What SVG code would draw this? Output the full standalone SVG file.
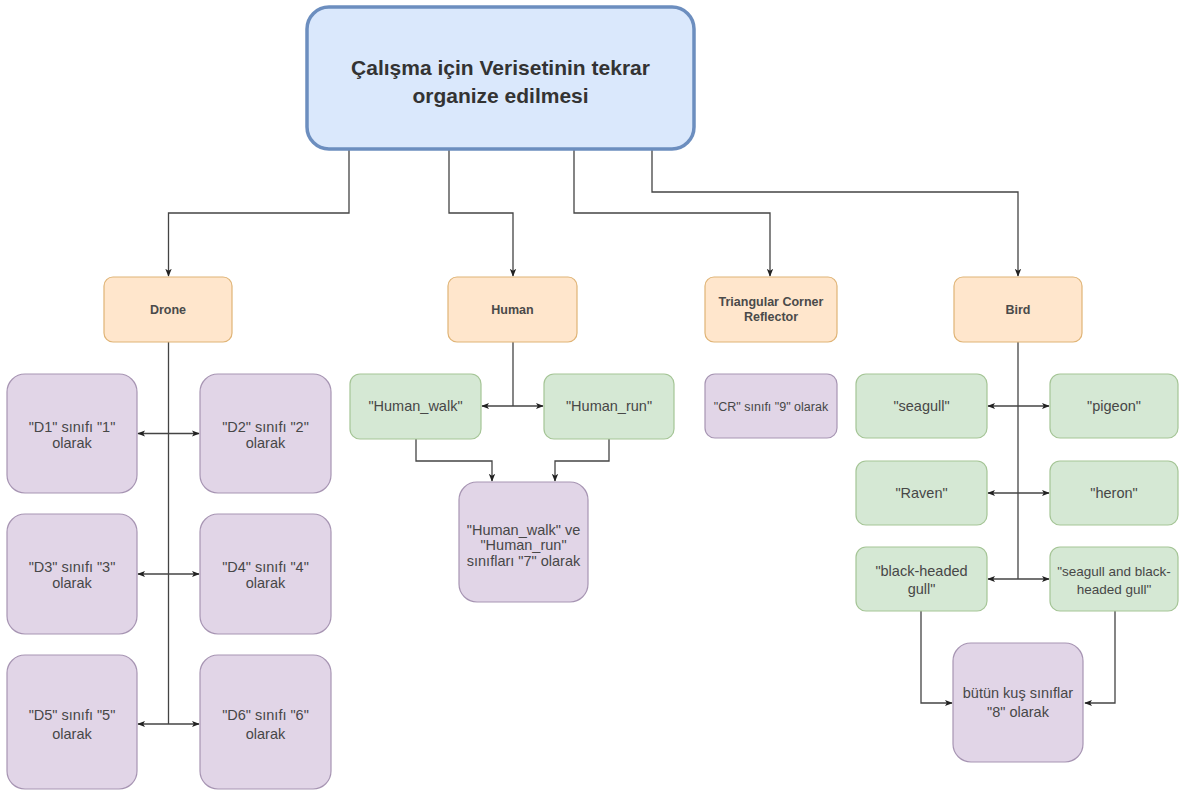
<svg xmlns="http://www.w3.org/2000/svg" width="1180" height="793" viewBox="0 0 1180 793">
  <defs>
    <marker id="arr" viewBox="0 0 10 10" refX="9" refY="5" markerWidth="8" markerHeight="8" markerUnits="userSpaceOnUse" orient="auto-start-reverse">
      <path d="M0,1 L10,5 L0,9 L2.5,5 Z" fill="#222"/>
    </marker>
    <style>
      .edge { fill: none; stroke: #444; stroke-width: 1.3; }
      .root { fill: #dae8fc; stroke: #6c8ebf; stroke-width: 3.5; }
      .cat { fill: #ffe6cc; stroke: #e0b476; stroke-width: 1.2; }
      .cls { fill: #e1d5e7; stroke: #a795b3; stroke-width: 1.2; }
      .sub { fill: #d5e8d4; stroke: #a5c596; stroke-width: 1.2; }
      text { font-family: "Liberation Sans", Arial, sans-serif; text-anchor: middle; fill: #474747; }
      .t-root { font-size: 21px; font-weight: bold; fill: #333; }
      .t-cat { font-size: 12.5px; font-weight: bold; fill: #4a4a4a; }
      .t { font-size: 14.5px; }
      .t-s { font-size: 13.5px; }
    </style>
  </defs>

  <!-- connectors -->
  <g id="connectors">
    <path class="edge" d="M349,150 V213 H168.5 V276" marker-end="url(#arr)"/>
    <path class="edge" d="M449,150 V213 H513 V276" marker-end="url(#arr)"/>
    <path class="edge" d="M574,150 V213 H770 V276" marker-end="url(#arr)"/>
    <path class="edge" d="M652,150 V192 H1018 V276" marker-end="url(#arr)"/>

    <!-- Drone split -->
    <path class="edge" d="M168.5,342 V724"/>
    <path class="edge" d="M138,433.5 H199" marker-start="url(#arr)" marker-end="url(#arr)"/>
    <path class="edge" d="M138,574 H199" marker-start="url(#arr)" marker-end="url(#arr)"/>
    <path class="edge" d="M138,724 H199" marker-start="url(#arr)" marker-end="url(#arr)"/>

    <!-- Human split -->
    <path class="edge" d="M513,342 V406"/>
    <path class="edge" d="M482,406 H543" marker-start="url(#arr)" marker-end="url(#arr)"/>
    <path class="edge" d="M416,439 V461 H492 V481" marker-end="url(#arr)"/>
    <path class="edge" d="M609,439 V461 H555 V481" marker-end="url(#arr)"/>

    <!-- Bird split -->
    <path class="edge" d="M1018,342 V579"/>
    <path class="edge" d="M988,406 H1049" marker-start="url(#arr)" marker-end="url(#arr)"/>
    <path class="edge" d="M988,493 H1049" marker-start="url(#arr)" marker-end="url(#arr)"/>
    <path class="edge" d="M988,579 H1049" marker-start="url(#arr)" marker-end="url(#arr)"/>
    <path class="edge" d="M921,611 V703 H952" marker-end="url(#arr)"/>
    <path class="edge" d="M1115,611 V703 H1085" marker-end="url(#arr)"/>
  </g>

  <!-- root -->
  <g id="root">
    <rect class="root" x="307" y="7" width="387" height="142" rx="22"/>
    <text class="t-root" x="500.5" y="75">Çalışma için Verisetinin tekrar</text>
    <text class="t-root" x="500.5" y="103">organize edilmesi</text>
  </g>

  <!-- categories -->
  <g id="drone">
    <rect class="cat" x="104" y="277" width="128" height="65" rx="9"/>
    <text class="t-cat" x="168" y="314">Drone</text>
  </g>
  <g id="human">
    <rect class="cat" x="448" y="277" width="129" height="65" rx="9"/>
    <text class="t-cat" x="512.5" y="314">Human</text>
  </g>
  <g id="reflector">
    <rect class="cat" x="705" y="277" width="132" height="65" rx="9"/>
    <text class="t-cat" x="771" y="306">Triangular Corner</text>
    <text class="t-cat" x="771" y="321">Reflector</text>
  </g>
  <g id="bird">
    <rect class="cat" x="954" y="277" width="128" height="65" rx="9"/>
    <text class="t-cat" x="1018" y="314">Bird</text>
  </g>

  <!-- drone classes -->
  <g id="d1">
    <rect class="cls" x="7" y="374" width="130" height="119" rx="18"/>
    <text class="t" x="72" y="432">"D1" sınıfı "1"</text>
    <text class="t" x="72" y="448">olarak</text>
  </g>
  <g id="d2">
    <rect class="cls" x="200" y="374" width="131" height="119" rx="18"/>
    <text class="t" x="265.5" y="432">"D2" sınıfı "2"</text>
    <text class="t" x="265.5" y="448">olarak</text>
  </g>
  <g id="d3">
    <rect class="cls" x="7" y="514" width="130" height="120" rx="18"/>
    <text class="t" x="72" y="572">"D3" sınıfı "3"</text>
    <text class="t" x="72" y="588">olarak</text>
  </g>
  <g id="d4">
    <rect class="cls" x="200" y="514" width="131" height="120" rx="18"/>
    <text class="t" x="265.5" y="572">"D4" sınıfı "4"</text>
    <text class="t" x="265.5" y="588">olarak</text>
  </g>
  <g id="d5">
    <rect class="cls" x="7" y="655" width="130" height="134" rx="18"/>
    <text class="t" x="72" y="720">"D5" sınıfı "5"</text>
    <text class="t" x="72" y="739">olarak</text>
  </g>
  <g id="d6">
    <rect class="cls" x="200" y="655" width="131" height="134" rx="18"/>
    <text class="t" x="265.5" y="720">"D6" sınıfı "6"</text>
    <text class="t" x="265.5" y="739">olarak</text>
  </g>

  <!-- human classes -->
  <g id="human-walk">
    <rect class="sub" x="350" y="374" width="131" height="65" rx="10"/>
    <text class="t" x="415.5" y="411">"Human_walk"</text>
  </g>
  <g id="human-run">
    <rect class="sub" x="544" y="374" width="130" height="65" rx="10"/>
    <text class="t" x="609" y="411">"Human_run"</text>
  </g>
  <g id="human-merged">
    <rect class="cls" x="459" y="482" width="129" height="120" rx="18"/>
    <text class="t" x="523.5" y="535">"Human_walk" ve</text>
    <text class="t" x="523.5" y="550">"Human_run"</text>
    <text class="t" x="523.5" y="566">sınıfları "7" olarak</text>
  </g>

  <!-- reflector class -->
  <g id="cr">
    <rect class="cls" x="705" y="374" width="132" height="64" rx="10"/>
    <text class="t-s" x="771" y="410.5" style="font-size:12.5px">"CR" sınıfı "9" olarak</text>
  </g>

  <!-- bird classes -->
  <g id="seagull">
    <rect class="sub" x="856" y="374" width="131" height="64" rx="10"/>
    <text class="t" x="921.5" y="411">"seagull"</text>
  </g>
  <g id="pigeon">
    <rect class="sub" x="1050" y="374" width="128" height="64" rx="10"/>
    <text class="t" x="1114" y="411">"pigeon"</text>
  </g>
  <g id="raven">
    <rect class="sub" x="856" y="461" width="131" height="64" rx="10"/>
    <text class="t" x="921.5" y="498">"Raven"</text>
  </g>
  <g id="heron">
    <rect class="sub" x="1050" y="461" width="128" height="64" rx="10"/>
    <text class="t" x="1114" y="498">"heron"</text>
  </g>
  <g id="black-headed-gull">
    <rect class="sub" x="856" y="547" width="131" height="64" rx="10"/>
    <text class="t" x="921.5" y="576">"black-headed</text>
    <text class="t" x="921.5" y="594">gull"</text>
  </g>
  <g id="seagull-and-bhg">
    <rect class="sub" x="1050" y="547" width="128" height="64" rx="10"/>
    <text class="t-s" x="1114" y="576">"seagull and black-</text>
    <text class="t-s" x="1114" y="594">headed gull"</text>
  </g>
  <g id="bird-merged">
    <rect class="cls" x="953" y="643" width="130" height="119" rx="18"/>
    <text class="t" x="1018" y="698">bütün kuş sınıflar</text>
    <text class="t" x="1018" y="717">"8" olarak</text>
  </g>
</svg>
